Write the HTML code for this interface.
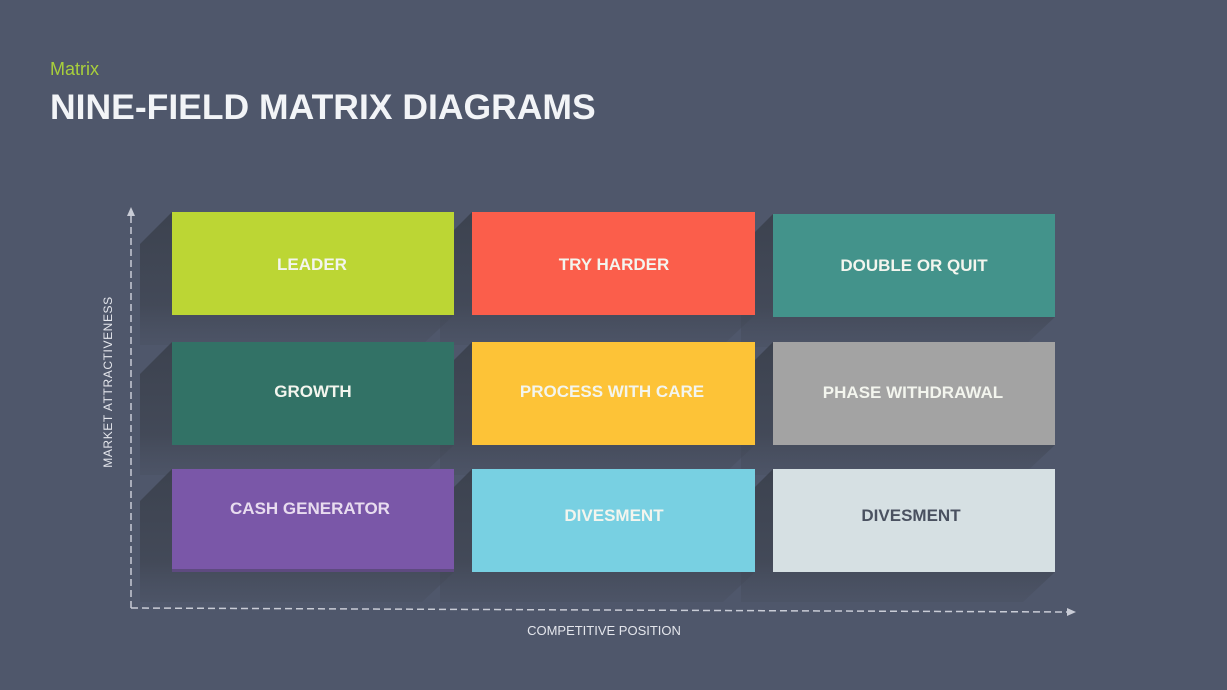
<!DOCTYPE html>
<html><head><meta charset="utf-8"><style>
html,body{margin:0;padding:0;background:#4f576b;}
svg{display:block}
text{font-family:"Liberation Sans",Arial,sans-serif;}
</style></head><body>
<svg width="1227" height="690" viewBox="0 0 1227 690" xmlns="http://www.w3.org/2000/svg">
<defs>
<linearGradient id="sh" x1="0" y1="0" x2="0" y2="1">
<stop offset="0" stop-color="#3a404c" stop-opacity="0.9"/>
<stop offset="0.7" stop-color="#3f4552" stop-opacity="0.75"/>
<stop offset="1" stop-color="#4a5162" stop-opacity="0.5"/>
</linearGradient>
</defs>
<rect width="1227" height="690" fill="#4f576b"/>
<text x="50" y="75" font-size="18" fill="#a8cf3c">Matrix</text>
<text x="50" y="119" font-size="35.5" font-weight="bold" fill="#f2f4f7">NINE-FIELD MATRIX DIAGRAMS</text>

<g fill="url(#sh)">
<polygon points="172,212 140,244 140,345 422,345 454,315 172,315"/>
<polygon points="472,212 440,244 440,345 723,345 755,315 472,315"/>
<polygon points="773,214 741,246 741,347 1023,347 1055,317 773,317"/>
<polygon points="172,342 140,374 140,475 422,475 454,445 172,445"/>
<polygon points="472,342 440,374 440,475 723,475 755,445 472,445"/>
<polygon points="773,342 741,374 741,475 1023,475 1055,445 773,445"/>
<polygon points="172,469 140,501 140,602 422,602 454,572 172,572"/>
<polygon points="472,469 440,501 440,602 723,602 755,572 472,572"/>
<polygon points="773,469 741,501 741,602 1023,602 1055,572 773,572"/>
</g>

<rect x="172" y="212" width="282" height="103" fill="#bcd634"/>
<rect x="472" y="212" width="283" height="103" fill="#fb5e4b"/>
<rect x="773" y="214" width="282" height="103" fill="#43938b"/>
<rect x="172" y="342" width="282" height="103" fill="#327266"/>
<rect x="472" y="342" width="283" height="103" fill="#fdc337"/>
<rect x="773" y="342" width="282" height="103" fill="#a3a3a3"/>
<rect x="172" y="469" width="282" height="103" fill="#7a57a8"/>
<rect x="172" y="569" width="282" height="3" fill="#5e4a80"/>
<rect x="472" y="469" width="283" height="103" fill="#78d0e2"/>
<rect x="773" y="469" width="282" height="103" fill="#d6e0e3"/>

<g font-size="17" font-weight="bold" text-anchor="middle" fill="#f3f5ee">
<text x="312" y="270">LEADER</text>
<text x="614" y="270">TRY HARDER</text>
<text x="914" y="271">DOUBLE OR QUIT</text>
<text x="313" y="397">GROWTH</text>
<text x="612" y="397">PROCESS WITH CARE</text>
<text x="913" y="398">PHASE WITHDRAWAL</text>
<text x="310" y="514" fill="#e8dcef">CASH GENERATOR</text>
<text x="614" y="521">DIVESMENT</text>
<text x="911" y="521" fill="#4a5160">DIVESMENT</text>
</g>

<g stroke="#c9ccd6" stroke-width="1.5" fill="none" stroke-dasharray="7,4">
<line x1="131" y1="216" x2="131" y2="608"/>
<line x1="131" y1="608" x2="1068" y2="612"/>
</g>
<polygon points="131,207 127,216 135,216" fill="#c9ccd6"/>
<polygon points="1076,612 1067,608 1067,616" fill="#c9ccd6"/>

<text x="0" y="0" font-size="12" fill="#e4e6ec" letter-spacing="0.6" text-anchor="middle" transform="translate(112,382) rotate(-90)">MARKET  ATTRACTIVENESS</text>
<text x="604" y="635" font-size="13" fill="#e4e6ec" text-anchor="middle">COMPETITIVE POSITION</text>
</svg>
</body></html>
